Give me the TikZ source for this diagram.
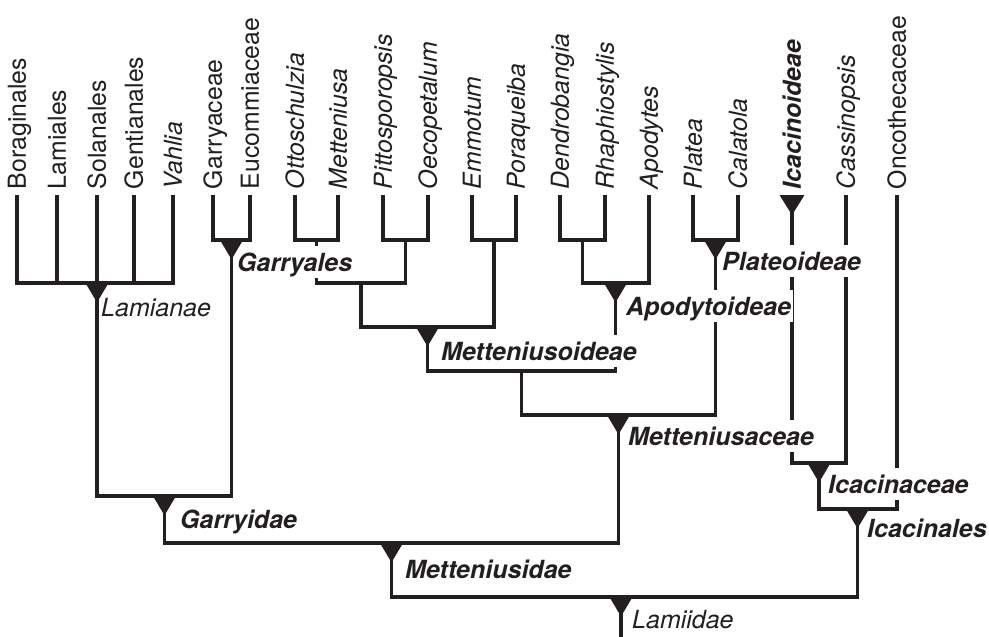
\documentclass[tikz,border=0pt]{standalone}
\usepackage{fontspec}
\setmainfont{TeX Gyre Heros}
\usetikzlibrary{calc}
\definecolor{ink}{RGB}{35,31,32}

\begin{document}
\begin{tikzpicture}[
    x=1pt, y=-1pt, color=ink,
    tip/.style   ={rotate=90,anchor=west,inner sep=0pt,outer xsep=6pt,
                   text height=17.5pt,text depth=0pt,font=\fontsize{24.8}{28}\selectfont},
    itip/.style  ={tip,font=\fontsize{24.8}{28}\selectfont\itshape},
    btip/.style  ={tip,font=\fontsize{24.8}{28}\selectfont\bfseries\itshape},
    clade/.style ={anchor=base west,fill=white,inner xsep=2pt,inner ysep=0pt,
                   text height=25pt,text depth=7pt,font=\fontsize{25}{30}\selectfont\itshape},
    bclade/.style={clade,font=\fontsize{25}{30}\selectfont\bfseries\itshape},
    br/.style    ={line width=3.2pt},
    ]
  \useasboundingbox (0,0) rectangle (989,637);

  % terminal taxa
  \node[tip]  (bor)  at (17,195)  {Boraginales};
  \node[tip]  (lami) at (57,195)  {Lamiales};
  \node[tip]  (sola) at (97,195)  {Solanales};
  \node[tip]  (gent) at (134,195) {Gentianales};
  \node[itip] (vahl) at (173,195) {Vahlia};
  \node[tip]  (garr) at (213,195) {Garryaceae};
  \node[tip]  (euco) at (250,195) {Eucommiaceae};
  \node[itip] (otto) at (295,195) {Ottoschulzia};
  \node[itip] (mett) at (338,195) {Metteniusa};
  \node[itip] (pitt) at (383,195) {Pittosporopsis};
  \node[itip] (oeco) at (428,195) {Oecopetalum};
  \node[itip] (emmo) at (472,195) {Emmotum};
  \node[itip] (pora) at (516,195) {Poraqueiba};
  \node[itip] (dend) at (560,195) {Dendrobangia};
  \node[itip] (rhap) at (605,195) {Rhaphiostylis};
  \node[itip] (apod) at (649,195) {Apodytes};
  \node[itip] (plat) at (693,195) {Platea};
  \node[itip] (cala) at (738,195) {Calatola};
  \node[btip] (icac) at (792,195) {Icacinoideae};
  \node[itip] (cass) at (846,195) {Cassinopsis};
  \node[tip]  (onco) at (897,195) {Oncothecaceae};

  % inner nodes
  \coordinate (lamianae)        at (97,283);
  \coordinate (garryales)       at (231.5,240);
  \coordinate (ottmet)          at (316.5,240);
  \coordinate (pitoec)          at (405.5,240);
  \coordinate (ottpit)          at (361,283);
  \coordinate (emmpor)          at (494,240);
  \coordinate (metteniusoideae) at (427.5,327);
  \coordinate (denrha)          at (582.5,240);
  \coordinate (apodytoideae)    at (615.5,283);
  \coordinate (plateoideae)     at (715.5,240);
  \coordinate (metapo)          at (521.5,371);
  \coordinate (metteniusaceae)  at (618.5,415);
  \coordinate (icacinaceae)     at (819,463);
  \coordinate (icacinales)      at (857.5,509);
  \coordinate (garryidae)       at (164.5,496);
  \coordinate (metteniusidae)   at (391.5,543);
  \coordinate (lamiidae)        at (621,597);
  \coordinate (root)            at (621,640);

  % branches
  \draw[br] (bor.west) |- (lamianae) -| (vahl.west);
  \draw[br] (lami.west) -- (lami.west |- lamianae);
  \draw[br] (sola.west) -- (lamianae);
  \draw[br] (gent.west) -- (gent.west |- lamianae);
  \draw[br] (garr.west) |- (garryales) -| (euco.west);
  \draw[br] (otto.west) |- (ottmet) -| (mett.west);
  \draw[br] (pitt.west) |- (pitoec) -| (oeco.west);
  \draw[br] (ottmet) |- (ottpit) -| (pitoec);
  \draw[br] (emmo.west) |- (emmpor) -| (pora.west);
  \draw[br] (ottpit) |- (metteniusoideae) -| (emmpor);
  \draw[br] (dend.west) |- (denrha) -| (rhap.west);
  \draw[br] (denrha) |- (apodytoideae) -| (apod.west);
  \draw[br] (plat.west) |- (plateoideae) -| (cala.west);
  \draw[br] (metteniusoideae) |- (metapo) -| (apodytoideae);
  \draw[br] (metapo) |- (metteniusaceae) -| (plateoideae);
  \draw[br] (icac.west) |- (icacinaceae) -| (cass.west);
  \draw[br] (icacinaceae) |- (icacinales) -| (onco.west);
  \draw[br] (lamianae) |- (garryidae) -| (garryales);
  \draw[br] (garryidae) |- (metteniusidae) -| (metteniusaceae);
  \draw[br] (metteniusidae) |- (lamiidae) -| (icacinales);
  \draw[br] (lamiidae) -- (root);

  % clade names
  \node[clade]  (l-lamianae) at (99,316)  {Lamianae};
  \node[bclade] (l-garryales) at (235,271) {Garryales};
  \node[bclade] (l-plateoideae) at (720,270) {Plateoideae};
  \node[bclade] (l-apodytoideae) at (624,315) {Apodytoideae\hspace{6pt}};
  \node[bclade] (l-metteniusoideae) at (439,360) {Metteniusoideae};
  \node[bclade] (l-metteniusaceae) at (626,445) {Metteniusaceae};
  \node[bclade] (l-icacinaceae) at (826,493) {Icacinaceae};
  \node[bclade] (l-icacinales) at (865,537) {Icacinales};
  \node[bclade] (l-garryidae) at (178,528) {Garryidae};
  \node[bclade] (l-metteniusidae) at (403,578) {Metteniusidae};
  \node[clade]  (l-lamiidae) at (630,628) {Lamiidae};

  % clade markers
  \foreach \c in {lamianae,garryales,plateoideae,apodytoideae,metteniusoideae,
                  metteniusaceae,icacinaceae,icacinales,garryidae,metteniusidae,lamiidae}
    \fill (\c) ++(-12.5,-1.6) -- ++(25,0) -- ++(-12.5,21) -- cycle;
  \fill (icac.west) ++(-12.5,0) -- ++(25,0) -- ++(-12.5,20) -- cycle;
\end{tikzpicture}
\end{document}
